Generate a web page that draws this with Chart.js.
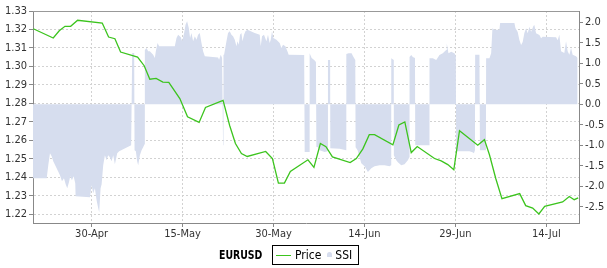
<!DOCTYPE html>
<html><head><meta charset="utf-8">
<script src="https://cdn.jsdelivr.net/npm/chart.js@4.4.0/dist/chart.umd.min.js"></script>
<style>
html,body{margin:0;padding:0;background:#fff;}
#wrap{position:relative;width:607px;height:268px;overflow:hidden;}
canvas{position:absolute;left:0;top:0;}
.lg{position:absolute;font-family:'DejaVu Sans Condensed','DejaVu Sans',sans-serif;color:#000;white-space:nowrap;}
</style></head><body>
<div id="wrap"><canvas id="c" width="607" height="268"></canvas></div>
<script>
// ---- data ----
const chartTitle = 'EURUSD';
const tickDays = [0, 15, 30, 45, 60, 75];              // days from 30-Apr
const tickLabels = ['30-Apr', '15-May', '30-May', '14-Jun', '29-Jun', '14-Jul'];
const priceTicks = [1.22, 1.23, 1.24, 1.25, 1.26, 1.27, 1.28, 1.29, 1.30, 1.31, 1.32, 1.33];
const ssiTicks = [-2.5, -2.0, -1.5, -1.0, -0.5, 0.0, 0.5, 1.0, 1.5, 2.0];

const priceDay = [-9.62,-6.33,-5.34,-4.40,-3.46,-2.31,1.75,2.80,3.84,4.78,7.58,8.67,9.60,10.64,11.75,12.73,14.55,15.82,17.73,18.78,21.68,22.78,23.72,24.71,25.67,28.71,29.82,30.81,31.80,32.78,35.68,36.67,37.73,38.65,39.72,42.64,43.66,44.74,45.80,46.67,49.69,50.68,51.66,52.72,53.71,56.56,57.66,58.75,59.74,60.68,63.69,64.79,65.62,66.66,67.68,70.61,71.60,72.75,73.77,74.73,77.69,78.79,79.60,80.26];
const priceValue = [1.3204,1.3154,1.3193,1.3217,1.3217,1.3250,1.3235,1.3159,1.3150,1.3078,1.3051,1.3004,1.2931,1.2935,1.2915,1.2914,1.2826,1.2728,1.2697,1.2778,1.2816,1.2679,1.2583,1.2529,1.2513,1.2540,1.2501,1.2369,1.2369,1.2432,1.2495,1.2454,1.2583,1.2566,1.2511,1.2480,1.2502,1.2554,1.2631,1.2631,1.2576,1.2683,1.2700,1.2534,1.2567,1.2502,1.2489,1.2469,1.2441,1.2652,1.2574,1.2604,1.2522,1.2394,1.2285,1.2312,1.2247,1.2234,1.2202,1.2243,1.2267,1.2296,1.2279,1.2289];

const ssiDay = [-9.67,-7.41,-7.15,-6.87,-6.59,-6.33,-5.77,-5.22,-4.89,-4.56,-4.28,-4.02,-3.74,-3.53,-3.25,-2.97,-2.70,-2.64,-0.28,0,0.26,0.54,0.82,1.09,1.25,1.48,1.65,1.91,2.19,2.47,2.73,3.01,3.29,3.56,3.84,4.22,4.55,6.52,6.64,6.69,7.02,7.08,7.30,7.51,7.68,7.96,8.24,8.50,8.73,8.78,9.06,9.32,9.60,9.88,10.15,10.43,10.59,10.87,11.14,13.72,14.00,14.27,14.71,14.93,15.26,15.49,15.75,16.03,16.24,16.47,16.74,17.02,17.30,17.56,17.84,18.12,18.39,18.67,20.86,21.02,21.30,21.52,21.63,21.68,21.75,21.85,22.24,22.50,22.78,23.06,23.33,23.61,23.89,24.05,24.27,24.48,24.71,24.88,25.14,25.37,25.70,26.90,27.73,27.89,28.11,28.43,28.83,29.09,29.37,29.54,29.75,29.98,30.48,31.02,31.30,31.57,31.96,32.29,32.50,35.06,35.14,35.91,35.96,36.29,36.71,37.00,37.07,37.28,37.61,38.43,38.93,38.98,39.34,39.37,40.91,41.98,42.01,42.39,42.88,43.10,43.49,43.54,43.87,44.20,44.48,45.02,45.57,46.13,46.67,47.50,48.32,49.14,49.39,49.42,49.84,49.85,50.25,50.51,51.07,51.61,52.16,52.41,52.44,52.72,52.98,53.34,53.38,55.70,55.73,56.28,56.84,57.38,57.92,58.48,58.58,58.86,59.31,59.85,60.07,60.13,62.32,62.82,63.06,63.23,63.26,63.97,64.05,65.04,65.07,65.62,65.90,66.11,66.44,67.26,67.38,69.74,69.90,70.28,70.56,70.84,71.10,71.38,71.66,71.93,72.21,72.49,72.87,73.03,73.31,73.86,74.14,74.40,76.61,76.87,77.15,77.43,77.97,78.25,78.52,78.80,79.08,79.34,79.90,80.16];
const ssiValue = [-1.802,-1.802,-1.485,-1.192,-1.265,-1.387,-1.558,-1.729,-1.875,-1.802,-1.949,-2.046,-1.900,-1.753,-1.851,-1.753,-1.924,-2.242,-2.266,-1.973,-2.168,-2.046,-2.339,-2.535,-2.632,-2.046,-1.949,-1.485,-1.241,-1.363,-1.241,-1.289,-1.387,-1.241,-1.460,-1.192,-1.143,-0.996,-0.996,1.250,1.250,-1.118,-1.143,-1.387,-1.485,-1.241,-1.118,-1.045,-0.972,1.324,1.372,1.292,1.292,1.250,1.209,1.128,1.292,1.495,1.414,1.414,1.617,1.697,1.634,1.536,1.739,1.941,2.024,1.861,1.617,1.739,1.536,1.658,1.575,1.697,1.739,1.495,1.292,1.170,1.145,1.087,1.209,1.128,1.128,-0.996,1.209,1.209,1.536,1.739,1.780,1.697,1.658,1.575,1.414,1.536,1.453,1.697,1.739,1.536,1.697,1.780,1.819,1.739,1.697,1.414,1.658,1.697,1.536,1.697,1.495,1.575,1.780,1.617,1.575,1.495,1.372,1.453,1.414,1.292,1.209,1.201,-1.160,-1.160,1.243,1.128,1.079,1.031,-1.038,-1.038,-1.118,-1.160,-1.143,1.079,1.079,-1.070,-1.082,-1.118,1.226,1.243,1.243,1.177,1.079,-1.045,-1.118,-1.289,-1.436,-1.509,-1.648,-1.558,-1.509,-1.485,-1.485,-1.509,-1.485,1.121,1.079,-1.241,-1.363,-1.411,-1.485,-1.460,-1.363,-1.289,1.153,1.201,1.153,1.128,-0.996,-0.996,1.121,1.121,1.079,1.201,1.243,1.324,1.487,1.243,1.282,1.243,1.177,-1.143,-1.143,-1.167,-1.192,-1.118,1.209,1.209,-1.118,-1.118,1.121,1.121,1.243,1.853,1.819,1.819,1.983,1.983,1.861,1.763,1.568,1.446,1.519,1.739,1.853,1.731,1.893,1.770,1.910,1.934,1.731,1.690,1.609,1.648,1.634,1.560,1.697,1.292,1.250,1.536,1.292,1.209,1.372,1.209,1.170,1.128];

// ---- chart ----
const FONT = "'DejaVu Sans Condensed','DejaVu Sans',sans-serif";
Chart.defaults.font.family = FONT;
Chart.defaults.font.size = 11;
Chart.defaults.color = '#333';

const frame = {
  id: 'frame',
  afterDraw(chart) {
    const a = chart.chartArea, c = chart.ctx;
    c.save();
    c.strokeStyle = '#999';
    c.lineWidth = 1;
    c.beginPath();
    c.moveTo(a.left, a.top + 0.5);
    c.lineTo(a.right, a.top + 0.5);
    c.stroke();
    c.restore();
  }
};

const chart = new Chart(document.getElementById('c'), {
  type: 'line',
  data: {
    datasets: [
      {
        label: 'Price',
        data: priceDay.map((d, i) => ({x: d, y: priceValue[i]})),
        yAxisID: 'yP',
        borderColor: '#3cc41e',
        backgroundColor: '#3cc41e',
        borderWidth: 1.3,
        pointRadius: 0,
        fill: false,
        tension: 0
      },
      {
        label: 'SSI',
        data: ssiDay.map((d, i) => ({x: d, y: ssiValue[i]})),
        yAxisID: 'yS',
        borderColor: 'rgba(0,0,0,0)',
        borderWidth: 0,
        backgroundColor: '#d6ddee',
        pointRadius: 0,
        fill: 'origin',
        tension: 0
      }
    ]
  },
  options: {
    responsive: false,
    animation: false,
    events: [],
    layout: {padding: {top: 11, left: 0, right: 0, bottom: 0}},
    plugins: {legend: {display: false}, tooltip: {enabled: false}},
    scales: {
      x: {
        type: 'linear',
        min: -9.67,
        max: 80.39,
        afterBuildTicks(s) { s.ticks = tickDays.map(v => ({value: v})); },
        afterFit(s) { s.height = 45; },
        ticks: {
          callback: (v) => tickLabels[tickDays.indexOf(v)],
          autoSkip: false, maxRotation: 0, padding: 1, color: '#333'
        },
        grid: {color: '#d2d2d2', lineWidth: 1, tickLength: 4, tickColor: '#888', drawTicks: true},
        border: {display: true, color: '#888', width: 1, dash: [2, 2]}
      },
      yP: {
        type: 'linear',
        position: 'left',
        min: 1.2153,
        max: 1.33,
        afterBuildTicks(s) { s.ticks = priceTicks.map(v => ({value: v})); },
        afterFit(s) { s.width = 33; },
        ticks: {callback: (v) => v.toFixed(2), padding: 2, color: '#333'},
        grid: {color: '#d2d2d2', lineWidth: 1, tickLength: 4, tickColor: '#888'},
        border: {display: true, color: '#888', width: 1, dash: [2, 2]}
      },
      yS: {
        type: 'linear',
        position: 'right',
        min: -2.894,
        max: 2.276,
        afterBuildTicks(s) { s.ticks = ssiTicks.map(v => ({value: v})); },
        afterFit(s) { s.width = 28; },
        ticks: {callback: (v) => v.toFixed(1), padding: 2, color: '#333'},
        grid: {drawOnChartArea: false, tickLength: 4, tickColor: '#888'},
        border: {display: true, color: '#888', width: 1}
      }
    }
  },
  plugins: [frame]
});

// ---- HTML legend built from the datasets ----
(function () {
  const wrap = document.getElementById('wrap');
  const t = document.createElement('div');
  t.className = 'lg';
  t.textContent = chartTitle;
  t.style.cssText = 'left:219px;top:246px;font-size:13px;font-weight:bold;line-height:18px;transform:scaleX(0.8);transform-origin:0 50%;';
  wrap.appendChild(t);
  const box = document.createElement('div');
  box.className = 'lg';
  box.style.cssText = 'left:272px;top:245px;width:87px;height:20px;box-sizing:border-box;border:1px solid #000;display:flex;align-items:center;padding:0 0 0 3px;font-size:12px;line-height:18px;';
  const ds = chart.data.datasets;
  // Price: line sample
  const s1 = document.createElement('span');
  s1.style.cssText = 'display:inline-block;width:15px;height:1px;background:' + ds[0].borderColor + ';margin-right:4px;';
  const l1 = document.createElement('span');
  l1.textContent = ds[0].label;
  l1.style.marginRight = '6px';
  // SSI: area sample
  const s2 = document.createElement('span');
  s2.style.cssText = 'display:inline-block;width:5px;height:5px;background:' + ds[1].backgroundColor + ';border-radius:3px 3px 0 0;margin-right:3px;margin-top:-1px;';
  const l2 = document.createElement('span');
  l2.textContent = ds[1].label;
  box.append(s1, l1, s2, l2);
  wrap.appendChild(box);
})();
</script>
</body></html>
